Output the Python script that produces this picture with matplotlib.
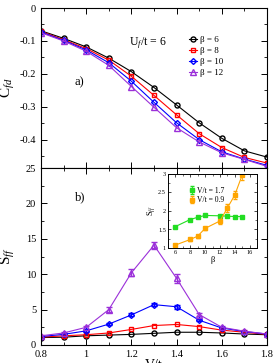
import matplotlib
matplotlib.use("Agg")
import matplotlib.pyplot as plt
from matplotlib.ticker import MultipleLocator

plt.rcParams['font.family'] = ['Liberation Serif', 'DejaVu Serif']
plt.rcParams['mathtext.fontset'] = 'custom'
plt.rcParams['mathtext.rm'] = 'Liberation Serif'
plt.rcParams['mathtext.it'] = 'Liberation Serif:italic'

V = [0.8, 0.9, 1.0, 1.1, 1.2, 1.3, 1.4, 1.5, 1.6, 1.7, 1.8]
betas = ["6", "8", "10", "12"]

cfd_b6 = [-0.069, -0.092, -0.118, -0.152, -0.193, -0.241, -0.294, -0.348, -0.395, -0.433, -0.452]
cfd_b8 = [-0.071, -0.096, -0.123, -0.158, -0.207, -0.265, -0.324, -0.381, -0.423, -0.453, -0.470]
cfd_b10 = [-0.073, -0.098, -0.127, -0.166, -0.222, -0.286, -0.348, -0.399, -0.436, -0.458, -0.477]
cfd_b12 = [-0.075, -0.100, -0.131, -0.174, -0.238, -0.301, -0.363, -0.406, -0.439, -0.459, -0.480]

sff_b6 = [1.05, 1.1, 1.3, 1.4, 1.5, 1.65, 1.8, 1.8, 1.7, 1.55, 1.45]
sff_b8 = [1.1, 1.3, 1.45, 1.7, 2.2, 2.75, 2.9, 2.6, 2.1, 1.8, 1.5]
sff_b10 = [1.2, 1.5, 2.0, 2.95, 4.25, 5.7, 5.4, 3.5, 2.4, 1.9, 1.55]
sff_b12 = [1.3, 1.7, 2.5, 5.0, 10.2, 14.1, 9.4, 4.3, 2.5, 1.95, 1.55]
sff_b12_err = [0.1, 0.15, 0.2, 0.35, 0.5, 0.5, 0.6, 0.25, 0.15, 0.1, 0.1]
sff_b10_err = [0.05, 0.05, 0.1, 0.15, 0.2, 0.25, 0.25, 0.15, 0.1, 0.05, 0.05]

inset_beta_green = [6, 8, 9, 10, 12, 13, 14, 15]
inset_green = [1.58, 1.77, 1.83, 1.88, 1.87, 1.86, 1.85, 1.85]
inset_green_err = [0.02, 0.02, 0.02, 0.02, 0.02, 0.02, 0.02, 0.02]
inset_beta_orange = [6, 8, 9, 10, 12, 13, 14, 15]
inset_orange = [1.08, 1.23, 1.32, 1.53, 1.73, 2.08, 2.43, 2.97]
inset_orange_err = [0.03, 0.03, 0.04, 0.05, 0.07, 0.1, 0.1, 0.12]

colors = ['black', '#ff0000', '#0000ff', '#9b30d9']
markers = ['o', 's', 'D', '^']
msizes = [3.6, 3.4, 3.0, 3.8]

fig = plt.figure(figsize=(2.76, 3.63), dpi=100)
ax1 = fig.add_axes([41/276, 1-168/363, 226/276, 160/363])
ax2 = fig.add_axes([41/276, 1-345/363, 226/276, 177/363])

cfd = [cfd_b6, cfd_b8, cfd_b10, cfd_b12]
sff = [sff_b6, sff_b8, sff_b10, sff_b12]
for i in range(4):
    ax1.plot(V, cfd[i], color=colors[i], marker=markers[i], ms=msizes[i], mfc='none',
             mew=1.0, lw=0.8, label='β = ' + betas[i])
for i in range(4):
    err = None
    if i == 3:
        err = sff_b12_err
    elif i == 2:
        err = sff_b10_err
    ax2.errorbar(V, sff[i], yerr=err, color=colors[i], marker=markers[i], ms=msizes[i],
                 mfc='none', mew=1.0, lw=0.8, capsize=2.5, elinewidth=0.8)

for ax in (ax1, ax2):
    ax.set_xlim(0.8, 1.8)
    ax.xaxis.set_major_locator(MultipleLocator(0.2))
    ax.xaxis.set_minor_locator(MultipleLocator(0.1))
    ax.tick_params(which='both', direction='in', top=True, right=True, labelsize=7.5)
    ax.tick_params(which='major', length=4, width=0.7)
    ax.tick_params(which='minor', length=2, width=0.6)
    for s in ax.spines.values():
        s.set_linewidth(0.8)

ax1.set_ylim(-0.485, 0)
ax1.yaxis.set_major_locator(MultipleLocator(0.1))
ax1.yaxis.set_minor_locator(MultipleLocator(0.05))
ax1.set_yticks([0, -0.1, -0.2, -0.3, -0.4])
ax1.set_yticklabels(['0', '-0.1', '-0.2', '-0.3', '-0.4'])
ax1.tick_params(labelbottom=False)
ax1.set_ylabel(r'C$_{fd}$', fontsize=11, labelpad=2)
ax1.text(0.39, 0.77, r'U$_f$/t = 6', transform=ax1.transAxes, fontsize=8.5)
ax1.text(0.15, 0.52, 'a)', transform=ax1.transAxes, fontsize=9)
ax1.legend(loc='upper left', bbox_to_anchor=(0.64, 0.85), frameon=False, fontsize=6.5,
           handlelength=0.9, handletextpad=0.3, labelspacing=0.3, borderaxespad=0.0)

ax2.set_ylim(0, 25)
ax2.yaxis.set_major_locator(MultipleLocator(5))
ax2.yaxis.set_minor_locator(MultipleLocator(2.5))
ax2.set_xticks([0.8, 1.0, 1.2, 1.4, 1.6, 1.8])
ax2.set_xticklabels(['0.8', '1', '1.2', '1.4', '1.6', '1.8'])
ax2.set_ylabel(r'S$_{ff}$', fontsize=11, labelpad=6)
ax2.set_xlabel('V/t', fontsize=10, labelpad=0)
ax2.text(0.15, 0.82, 'b)', transform=ax2.transAxes, fontsize=9)

axi = fig.add_axes([168/276, 1-248/363, 89/276, 74/363])
axi.errorbar(inset_beta_green, inset_green, yerr=inset_green_err, color='#22dd22', marker='s',
             ms=2.6, lw=0.8, capsize=1.5, elinewidth=0.6, label='V/t = 1.7')
axi.errorbar(inset_beta_orange, inset_orange, yerr=inset_orange_err, color='#ffa500', marker='s',
             ms=2.6, lw=0.8, capsize=1.5, elinewidth=0.6, label='V/t = 0.9')
axi.set_xlim(5, 17)
axi.set_ylim(1, 3)
axi.set_xticks([6, 8, 10, 12, 14, 16])
axi.set_yticks([1, 1.5, 2, 2.5, 3])
axi.set_yticklabels(['1', '1.5', '2', '2.5', '3'])
axi.xaxis.set_minor_locator(MultipleLocator(1))
axi.yaxis.set_minor_locator(MultipleLocator(0.25))
axi.tick_params(which='both', direction='in', top=True, right=True, labelsize=4.5, pad=1.5)
axi.tick_params(which='major', length=2.5, width=0.5)
axi.tick_params(which='minor', length=1.2, width=0.4)
for s in axi.spines.values():
    s.set_linewidth(0.7)
axi.set_xlabel('β', fontsize=6, labelpad=0.5)
axi.set_ylabel(r'S$_{ff}$', fontsize=6, labelpad=1)
axi.legend(loc='upper left', bbox_to_anchor=(0.2, 0.88), frameon=False, fontsize=5.5,
           handlelength=0.6, handletextpad=0.4, labelspacing=0.2, borderaxespad=0.1)

fig.savefig('out.png', dpi=100)
